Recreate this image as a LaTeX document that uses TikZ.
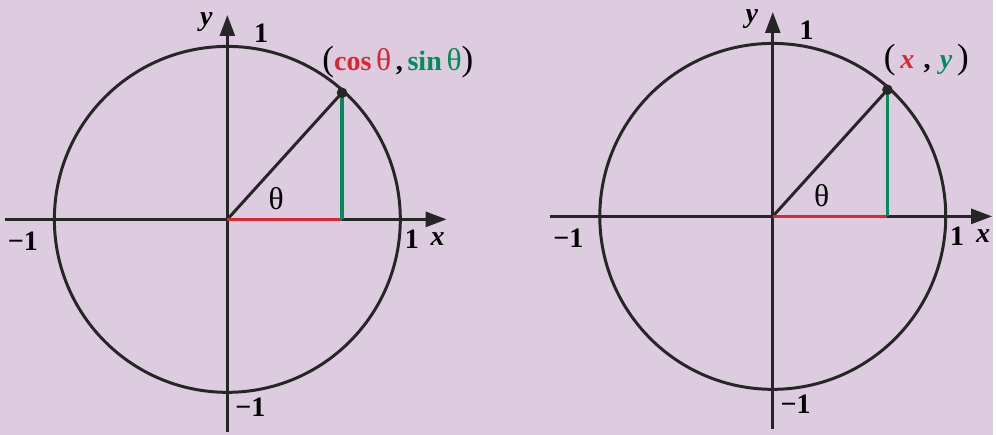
\documentclass[tikz,border=0pt]{standalone}
\usepackage{fontspec}
\setmainfont{Liberation Serif}
\usetikzlibrary{arrows.meta}
\definecolor{bgpurple}{RGB}{221,204,223}
\definecolor{cosred}{RGB}{218,37,50}
\definecolor{singreen}{RGB}{0,140,90}
\newcommand{\bigpar}[1]{{\fontsize{20}{21}\selectfont\mdseries #1}}
\newcommand{\thsym}{{\fontsize{18}{20}\selectfont\mdseries θ}}
\begin{document}
\begin{tikzpicture}[x=0.02cm,y=-0.02cm,>={Triangle[length=12pt,width=8.5pt]},line join=round,
	font=\fontsize{16}{18}\selectfont\bfseries,
	axis/.style={line width=1.7pt,draw=black!85},
	cosline/.style={line width=1.9pt,draw=cosred},
	sinline/.style={line width=1.9pt,draw=singreen}]
	\fill[bgpurple] (0,0) rectangle (996,436);
	\foreach \n/\dx/\dy in {a/0/0, b/547/-3}{
		\begin{scope}[shift={(\dx,\dy)}]
			\path 
			(228,220) coordinate (O\n)
			(5,220) coordinate (W\n)
			(448,220) coordinate (E\n)
			(228,433) coordinate (S\n)
			(228,15) coordinate (N\n)
			(343,93) coordinate (P\n)
			(343,220) coordinate (Q\n);
			\draw[axis] (O\n) circle (3.47cm);
			\draw[axis,->] (W\n)--(E\n);
			\draw[axis,->] (S\n)--(N\n);
			\draw[axis] (O\n)--(P\n);
			\draw[cosline] (O\n)--(Q\n);
			\draw[sinline] (Q\n)--(P\n);
			\fill[black!85] (P\n) circle (3pt);
			\node[inner sep=1pt] (ylab\n) at (207,22) {\itshape y};
			\node (ytop\n) at (262,33) {1};
			\node (ybot\n) at (251,408) {−1};
			\node (xleft\n) at (23,242) {−1};
			\node (xright\n) at (413,240) {1};
			\node (xlab\n) at (439,240) {\itshape x};
			\node (th\n) at (277,199) {\thsym};
		\end{scope}
	}
	\node (pta) at (399,62) {\bigpar{(}\textcolor{cosred}{cos\,\thsym}\,,\,\textcolor{singreen}{sin\,\thsym}\bigpar{)}};
	\node (ptb) at (929,60) {\bigpar{(}\,\textcolor{cosred}{\itshape x}\,\,,\,\,\textcolor{singreen}{\itshape y}\,\bigpar{)}};
\end{tikzpicture}
\end{document}
